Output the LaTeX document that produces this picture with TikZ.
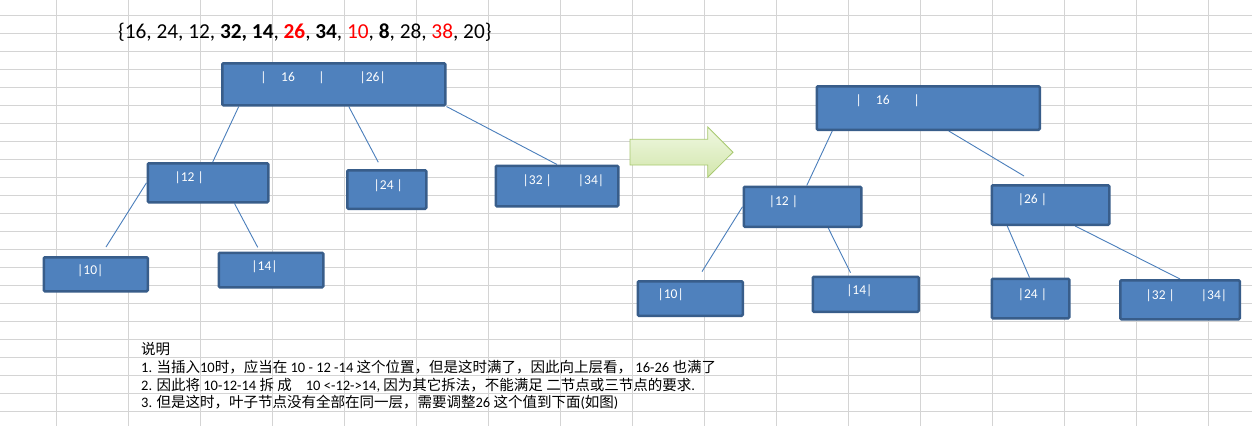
\documentclass[tikz,border=0pt]{standalone}
\usepackage{fontspec}
\setmainfont{Carlito}
\newfontfamily\cjk{Noto Sans CJK SC}
\usetikzlibrary{calc}
\definecolor{boxfill}{HTML}{4F81BD}
\definecolor{boxline}{HTML}{385D8A}
\definecolor{connc}{HTML}{4A7EBB}
\definecolor{gridc}{HTML}{D4D4D4}
\definecolor{arrowtop}{HTML}{F0F8E2}
\definecolor{arrowbot}{HTML}{D2E6AC}
\definecolor{arrowline}{HTML}{A8C970}
\definecolor{setred}{HTML}{FF0000}
\pgfdeclarelayer{gridlayer}
\pgfdeclarelayer{connlayer}
\pgfsetlayers{gridlayer,connlayer,main}
\begin{document}
\begin{tikzpicture}[x=1pt,y=-1pt,
  box/.style={draw=boxline, fill=boxfill, line width=2.5pt, rounded corners=1.2pt, inner sep=0pt},
  btext/.style={text=white, font=\fontsize{13.5}{16}\selectfont, inner sep=0pt, anchor=base},
  conn/.style={draw=connc, line width=0.9pt},
  note/.style={font=\fontsize{14.5}{17}\selectfont, inner sep=0pt, anchor=base west},
  gridline/.style={draw=gridc, line width=1pt},
  bigarrow/.style={top color=arrowtop, bottom color=arrowbot, draw=arrowline, line width=0.8pt, line join=miter},
]
\useasboundingbox (0,0) rectangle (1252,426);

% spreadsheet grid
\begin{pgfonlayer}{gridlayer}
\fill[white] (0,0) rectangle (1252,426);
\foreach \gx in {0,...,16} \draw[gridline] ({56.5+72*\gx},0) -- ({56.5+72*\gx},426);
\foreach \gy in {0,...,22} \draw[gridline] (0,{15.3+18*\gy}) -- (1252,{15.3+18*\gy});
\end{pgfonlayer}

% heading set
\node[note, font=\fontsize{21.3}{24}\selectfont] (set) at (118,38.3)
  {\{16, 24, 12, \textbf{32, 14}, \textcolor{setred}{\textbf{26}}, \textbf{34}, \textcolor{setred}{10}, \textbf{8}, 28, \textcolor{setred}{38}, 20\}};

% left tree boxes
\node[box, minimum width=223pt, minimum height=42pt] (lroot) at (333.75,84.25) {};
\node[box, minimum width=120.5pt, minimum height=39pt] (l12) at (208,182.75) {};
\node[box, minimum width=104pt, minimum height=34pt] (l10) at (95.75,274.25) {};
\node[box, minimum width=104.5pt, minimum height=34.5pt] (l14) at (271,270) {};
\node[box, minimum width=79pt, minimum height=38.5pt] (l24) at (386.75,189.5) {};
\node[box, minimum width=122.5pt, minimum height=40.5pt] (l3234) at (557,186) {};

% right tree boxes
\node[box, minimum width=223pt, minimum height=43.5pt] (rroot) at (928.25,108) {};
\node[box, minimum width=117.5pt, minimum height=40pt] (r12) at (802.5,206.75) {};
\node[box, minimum width=117.5pt, minimum height=39.5pt] (r26) at (1050.5,205) {};
\node[box, minimum width=105pt, minimum height=34.5pt] (r10) at (690.25,298.5) {};
\node[box, minimum width=106pt, minimum height=35pt] (r14) at (865.75,294.25) {};
\node[box, minimum width=77.5pt, minimum height=39.5pt] (r24) at (1030.5,298.5) {};
\node[box, minimum width=119.5pt, minimum height=39pt] (r3234) at (1180,299.75) {};

% box texts, left tree
\node[btext] (lr1) at (263.5,81.7) {|};
\node[btext] (lr2) at (288,81.7) {16};
\node[btext] (lr3) at (321.5,81.7) {|};
\node[btext] (lr4) at (372.7,81.7) {|26|};
\node[btext] (lt12) at (189.2,181.5) {|12 |};
\node[btext] (lt10) at (90.3,274.3) {|10|};
\node[btext] (lt14) at (264.5,270.7) {|14|};
\node[btext] (lt24) at (388.3,189) {|24 |};
\node[btext] (lt32) at (537.3,184.3) {|32 |};
\node[btext] (lt34) at (591,184.3) {|34|};

% box texts, right tree
\node[btext] (rr1) at (858.7,104.3) {|};
\node[btext] (rr2) at (882.8,104.3) {16};
\node[btext] (rr3) at (916.7,104.3) {|};
\node[btext] (rt12) at (783.5,205.7) {|12 |};
\node[btext] (rt26) at (1032.5,203.3) {|26 |};
\node[btext] (rt10) at (670.7,298.3) {|10|};
\node[btext] (rt14) at (859.3,294.3) {|14|};
\node[btext] (rt24) at (1032.5,298.3) {|24 |};
\node[btext] (rt32) at (1160.3,299) {|32 |};
\node[btext] (rt34) at (1214,299) {|34|};

% free ends of connectors
\coordinate (c24) at (378.3,162.3);
\coordinate (c10) at (106,247);
\coordinate (c14) at (257.7,247.3);
\coordinate (c26) at (1024,176);
\coordinate (c10r) at (702,271.6);
\coordinate (c14r) at (850.5,272.7);

\begin{pgfonlayer}{connlayer}
\draw[conn] ($(lroot.south west)+(17.75,0)$) -- ($(l12.north west)+(66.25,0)$);
\draw[conn] ($(lroot.south west)+(127.75,0)$) -- (c24);
\draw[conn] (lroot.south east) -- (l3234.north);
\draw[conn] (l12.west) -- (c10);
\draw[conn] ($(l12.south west)+(88,0)$) -- (c14);
\draw[conn] ($(rroot.south west)+(16.75,0)$) -- ($(r12.north west)+(64.25,0)$);
\draw[conn] ($(rroot.south west)+(133.25,0)$) -- (c26);
\draw[conn] (r12.west) -- (c10r);
\draw[conn] ($(r12.south west)+(85.75,0)$) -- (c14r);
\draw[conn] ($(r26.south west)+(16.75,0)$) -- ($(r24.north)+(-1,0)$);
\draw[conn] ($(r26.south west)+(84.75,0)$) -- (r3234.north);
\end{pgfonlayer}

% block arrow
\shade[bigarrow] (630,139.3) -- (707.7,139.3) -- (707.7,127) -- (733,152.2) -- (707.7,177.3) -- (707.7,165) -- (630,165) -- cycle;

% notes
\node[note] (n0) at (141,354) {\cjk 说明};
\node[note] (n1) at (141,372.3) {1. {\cjk 当插入}10{\cjk 时，应当在} 10 - 12 -14 {\cjk 这个位置，但是这时满了，因此向上层看，} 16-26 {\cjk 也满了}};
\node[note] (n2) at (141,390) {2. {\cjk 因此将} 10-12-14 {\cjk 拆} {\cjk 成}\hspace{14pt}10 <-12->14, {\cjk 因为其它拆法，不能满足} {\cjk 二节点或三节点的要求}.};
\node[note] (n3) at (141,407.7) {3. {\cjk 但是这时，叶子节点没有全部在同一层，需要调整}26 {\cjk 这个值到下面}({\cjk 如图})};
\end{tikzpicture}
\end{document}
